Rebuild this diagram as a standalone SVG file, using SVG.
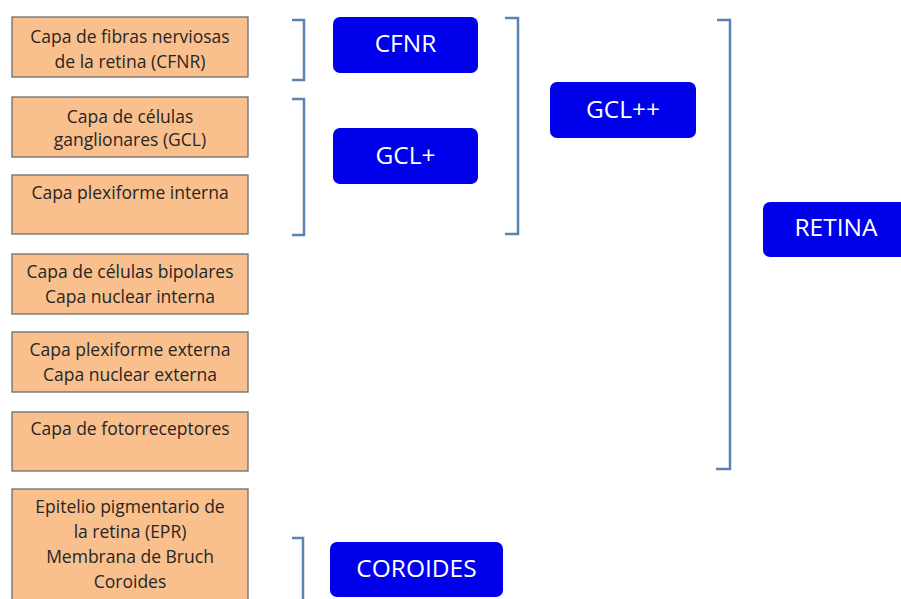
<svg xmlns="http://www.w3.org/2000/svg" width="901" height="599" viewBox="0 0 901 599">
<style>
.layer{fill:#f9c08d;stroke:#6e6e6e;stroke-width:1.3}
.lt{font-family:"Open Sans","Liberation Sans",sans-serif;font-size:17.5px;fill:#262626;text-anchor:middle}
.grp{fill:#0000ea}
.gt{font-family:"Open Sans","Liberation Sans",sans-serif;font-size:24.5px;fill:#ffffff;text-anchor:middle}
.br{fill:none;stroke:#5b83b0;stroke-width:2.5}
</style>
<rect width="901" height="599" fill="#ffffff"/>
<g id="layer-cfnr"><rect class="layer" x="12" y="17" width="236" height="60"/><text class="lt" x="130" y="42.5">Capa de fibras nerviosas</text><text class="lt" x="130" y="67.5">de la retina (CFNR)</text></g>
<g id="layer-gcl"><rect class="layer" x="12" y="97" width="236" height="60"/><text class="lt" x="130" y="122.5">Capa de células</text><text class="lt" x="130" y="145.5">ganglionares (GCL)</text></g>
<g id="layer-ipl"><rect class="layer" x="12" y="175" width="236" height="59"/><text class="lt" x="130" y="198.5">Capa plexiforme interna</text></g>
<g id="layer-inl"><rect class="layer" x="12" y="254" width="236" height="60"/><text class="lt" x="130" y="277.5">Capa de células bipolares</text><text class="lt" x="130" y="302.5">Capa nuclear interna</text></g>
<g id="layer-opl"><rect class="layer" x="12" y="332" width="236" height="60"/><text class="lt" x="130" y="355.5">Capa plexiforme externa</text><text class="lt" x="130" y="380.5">Capa nuclear externa</text></g>
<g id="layer-photo"><rect class="layer" x="12" y="412" width="236" height="59"/><text class="lt" x="130" y="434.5">Capa de fotorreceptores</text></g>
<g id="layer-epr"><rect class="layer" x="12" y="489" width="236" height="120"/><text class="lt" x="130" y="512.5">Epitelio pigmentario de</text><text class="lt" x="130" y="538">la retina (EPR)</text><text class="lt" x="130" y="562.5">Membrana de Bruch</text><text class="lt" x="130" y="587.5">Coroides</text></g>
<g id="node-cfnr"><rect class="grp" x="333" y="17" width="145" height="56" rx="7"/><text class="gt" x="405.5" y="52">CFNR</text></g>
<g id="node-gclp"><rect class="grp" x="333" y="128" width="145" height="56" rx="7"/><text class="gt" x="405.5" y="163.5">GCL+</text></g>
<g id="node-gclpp"><rect class="grp" x="550" y="82" width="146" height="56" rx="7"/><text class="gt" x="623" y="117.5">GCL++</text></g>
<g id="node-retina"><rect class="grp" x="763" y="202" width="145" height="55" rx="7"/><text class="gt" x="836" y="236">RETINA</text></g>
<g id="node-coroides"><rect class="grp" x="330" y="542" width="173" height="55" rx="7"/><text class="gt" x="416.5" y="576.5">COROIDES</text></g>
<g id="connectors">
<path class="br" d="M292 20 H304 V80 H292"/>
<path class="br" d="M292 99 H304 V235 H292"/>
<path class="br" d="M505 18 H518 V234 H505"/>
<path class="br" d="M717 20 H730 V469 H716"/>
<path class="br" d="M292 538 H303 V610"/>
</g>
</svg>
